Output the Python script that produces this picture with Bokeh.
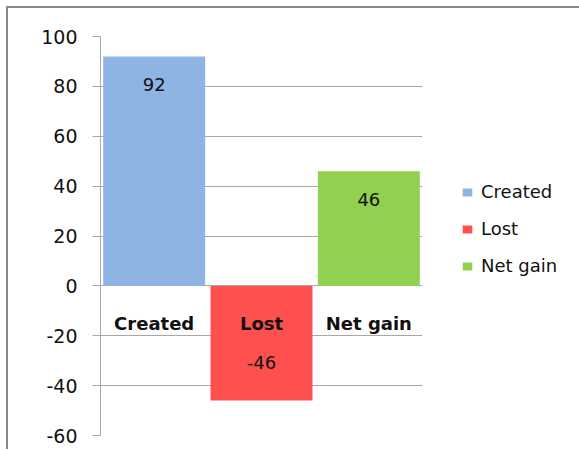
import numpy as np
from bokeh.plotting import figure
from bokeh.models import ColumnDataSource, Range1d, FixedTicker, Legend, LegendItem
from bokeh.core.properties import value
from bokeh.embed import file_html
from bokeh.resources import INLINE

categories = ["Created", "Lost", "Net gain"]
values = [92, -46, 46]
colors = ["#8DB4E2", "#FF5050", "#92D050"]
y_ticks = [-60, -40, -20, 0, 20, 40, 60, 80, 100]
y_tick_labels = ["-60", "-40", "-20", "0", "20", "40", "60", "80", "100"]

FONT = "DejaVu Sans"

source = ColumnDataSource(data=dict(
    cat=categories,
    val=values,
    color=colors,
    label=[str(v) for v in values],
    zero=[0] * len(values),
    loff=list(np.where(np.array(values) >= 0, 28, -38)),
))

p = figure(
    x_range=categories,
    y_range=Range1d(-60, 100),
    frame_width=322, frame_height=399,
    width=569, height=441,
    min_border_left=92, min_border_top=28, min_border_right=155, min_border_bottom=14,
    output_backend="svg", toolbar_location=None,
    styles={"margin-left": "6px", "margin-top": "6px",
            "border-left": "2px solid #888888", "border-top": "2px solid #888888"},
)
p.outline_line_color = None
p.background_fill_color = "white"
p.border_fill_color = "white"
p.x_range.range_padding = 0

p.xaxis.visible = False
p.xgrid.visible = False
p.ygrid.ticker = FixedTicker(ticks=y_ticks)
p.ygrid.grid_line_color = "#A8A8A8"
p.ygrid.grid_line_width = 1

yax = p.yaxis[0]
yax.ticker = FixedTicker(ticks=y_ticks)
yax.major_label_overrides = dict(zip(y_ticks, y_tick_labels))
yax.axis_line_color = "#A8A8A8"
yax.major_tick_line_color = "#A8A8A8"
yax.major_tick_in = 0
yax.major_tick_out = 8
yax.minor_tick_line_color = None
yax.major_label_standoff = 15
yax.major_label_text_font = FONT
yax.major_label_text_font_size = "19px"
yax.major_label_text_color = "#111111"

r = p.vbar(x="cat", top="val", bottom=0, width=0.95, source=source,
           fill_color="color", line_color=None)

p.text(x="cat", y="val", text="label", source=source, y_offset="loff",
       text_align="center", text_baseline="middle",
       text_font=value(FONT), text_font_size="18px", text_color="#111111")

p.text(x="cat", y="zero", text="cat", source=source, y_offset=38,
       text_align="center", text_baseline="middle",
       text_font=value(FONT), text_font_size="18px", text_font_style="bold",
       text_color="#111111")

items = [LegendItem(label=categories[i], renderers=[r], index=i) for i in range(len(categories))]
legend = Legend(items=items, location=(39, 159))
legend.padding = 0
legend.margin = 0
legend.border_line_color = None
legend.background_fill_alpha = 0
legend.glyph_width = 12
legend.glyph_height = 10
legend.label_height = 20
legend.spacing = 16
legend.label_standoff = 8
legend.label_text_font = FONT
legend.label_text_font_size = "18px"
legend.label_text_color = "#111111"
p.add_layout(legend, "right")

open("out.html", "w").write(file_html(p, INLINE))
